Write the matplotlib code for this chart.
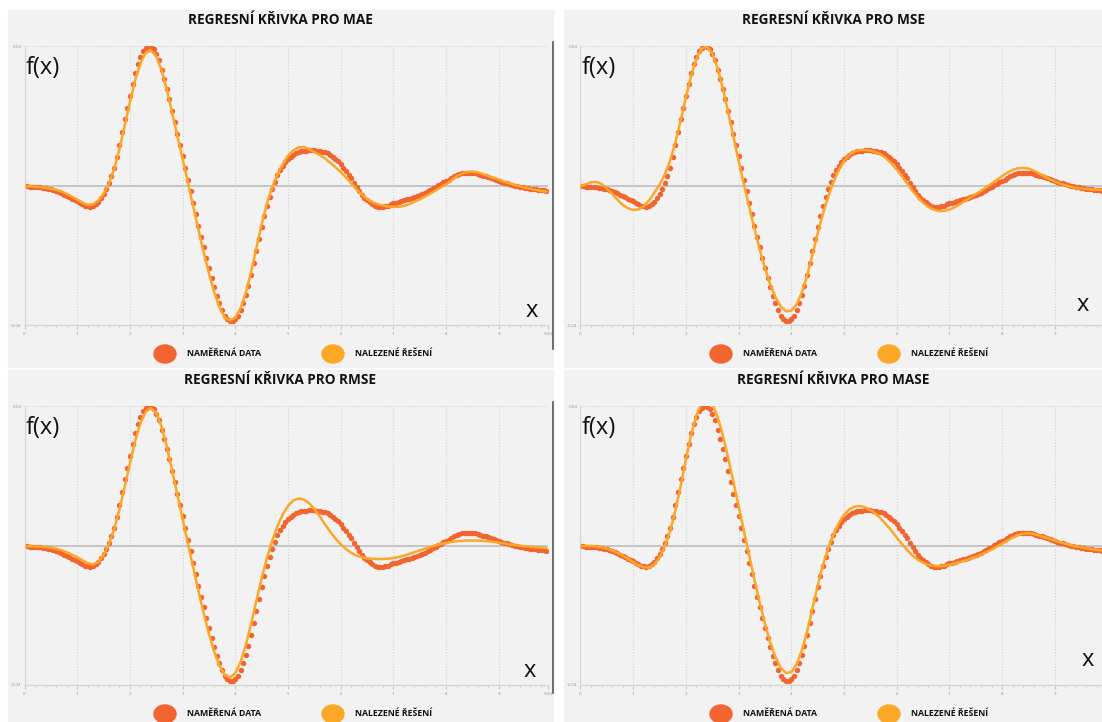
import numpy as np
import matplotlib.pyplot as plt
from matplotlib.patches import Rectangle, Ellipse
from matplotlib.lines import Line2D

# naměřená data (hodnoty v tisícinách), krok 0.05 od 0 do 9.9
measured = [
    0.0, 0.0, -0.05, -0.1, -0.15, -0.2, -0.3, -0.4, -0.55, -0.7,
    -0.9, -1.1, -1.4, -1.7, -2.0, -2.4, -2.8, -3.2, -3.6, -4.0,
    -4.4, -4.8, -5.2, -5.6, -5.85, -5.9, -5.7, -5.2, -4.5, -3.5,
    -2.3, -0.8, 1.0, 3.0, 5.5, 8.5, 12.0, 15.9, 19.7, 23.0,
    26.4, 30.0, 33.0, 35.7, 37.9, 39.4, 40.5, 40.9, 40.8, 40.2,
    38.7, 36.8, 34.1, 31.4, 28.3, 25.4, 22.0, 18.8, 15.4, 12.1,
    8.8, 5.5, 2.0, -1.4, -4.8, -8.2, -11.6, -14.7, -17.8, -20.8,
    -23.8, -26.7, -29.5, -31.9, -34.0, -36.2, -37.8, -38.8, -39.2, -39.2,
    -38.7, -37.8, -36.2, -34.0, -31.7, -29.1, -25.9, -22.5, -19.0, -15.4,
    -11.9, -8.6, -5.8, -3.2, -0.9, 1.3, 3.2, 4.8, 6.0, 7.1,
    8.0, 8.7, 9.3, 9.7, 10.0, 10.2, 10.3, 10.4, 10.5, 10.5,
    10.5, 10.4, 10.3, 10.1, 9.9, 9.6, 9.2, 8.6, 8.0, 7.3,
    6.4, 5.4, 4.4, 3.4, 2.3, 1.1, -0.3, -1.4, -2.4, -3.3,
    -4.1, -4.7, -5.2, -5.6, -5.9, -6.0, -6.0, -5.8, -5.6, -5.3,
    -5.0, -4.8, -4.5, -4.3, -4.0, -3.8, -3.6, -3.4, -3.1, -2.8,
    -2.5, -2.2, -1.8, -1.5, -1.1, -0.6, -0.2, 0.3, 0.8, 1.2,
    1.6, 2.0, 2.5, 2.9, 3.3, 3.6, 3.8, 3.9, 4.0, 4.0,
    3.9, 3.8, 3.6, 3.4, 3.1, 2.9, 2.6, 2.4, 2.1, 1.9,
    1.6, 1.4, 1.1, 0.9, 0.6, 0.4, 0.2, 0.0, -0.2, -0.3,
    -0.5, -0.6, -0.7, -0.8, -0.9, -1.0, -1.1, -1.2, -1.3,
]

# nalezená řešení pro jednotlivé metriky, krok 0.1 od 0 do 9.9
fit_mae = [
    0.0, 0.0, -0.1, -0.2, -0.4, -0.7, -1.0, -1.5, -2.2, -3.0,
    -3.9, -4.8, -5.4, -5.2, -4.2, -2.2, 0.8, 5.0, 10.8, 17.6,
    24.5, 31.0, 36.0, 39.0, 39.7, 38.0, 34.0, 28.3, 21.6, 14.8,
    8.0, 1.2, -5.8, -12.6, -19.3, -25.5, -31.0, -35.3, -38.3, -39.2,
    -38.3, -35.6, -31.0, -25.0, -18.0, -11.0, -5.0, -0.3, 3.5, 6.5,
    8.9, 10.5, 11.4, 11.5, 10.9, 10.0, 9.2, 8.2, 6.9, 5.6,
    4.2, 2.6, 0.9, -0.9, -2.4, -3.7, -4.6, -5.2, -5.6, -5.9,
    -6.0, -6.0, -5.7, -5.2, -4.5, -3.8, -3.0, -2.1, -1.2, -0.3,
    0.6, 1.8, 2.9, 3.7, 4.2, 4.3, 4.1, 3.6, 3.0, 2.5,
    2.0, 1.4, 0.9, 0.4, 0.0, -0.4, -0.7, -1.0, -1.3, -1.5,
]
fit_mse = [
    0.0, 0.6, 1.2, 1.3, 0.7, -0.6, -2.2, -3.9, -5.4, -6.4,
    -6.9, -6.7, -5.8, -4.1, -1.9, 0.5, 3.5, 7.5, 12.8, 19.2,
    26.0, 32.3, 37.3, 40.3, 40.8, 38.8, 34.6, 28.7, 21.8, 14.6,
    7.5, 0.6, -6.0, -12.4, -18.4, -23.9, -28.6, -32.4, -35.1, -36.5,
    -36.3, -34.5, -31.0, -26.0, -20.0, -13.8, -8.0, -3.0, 1.2, 4.7,
    7.4, 9.2, 10.2, 10.6, 10.6, 10.4, 10.0, 9.3, 8.2, 6.7,
    4.9, 2.9, 0.8, -1.3, -3.2, -4.8, -6.0, -6.8, -7.2, -7.2,
    -6.8, -6.1, -5.2, -4.2, -3.2, -2.3, -1.3, -0.3, 0.8, 1.9,
    3.0, 4.0, 4.8, 5.3, 5.4, 5.2, 4.6, 3.8, 2.9, 2.1,
    1.4, 0.8, 0.3, -0.1, -0.4, -0.6, -0.8, -0.9, -1.0, -1.1,
]
fit_rmse = [
    0.0, 0.0, 0.0, -0.1, -0.2, -0.4, -0.7, -1.1, -1.7, -2.4,
    -3.2, -4.1, -4.9, -5.3, -4.6, -2.6, 0.6, 5.0, 10.6, 17.3,
    24.2, 30.8, 36.0, 39.3, 40.4, 38.9, 35.0, 29.2, 22.3, 15.1,
    8.0, 0.9, -6.1, -13.0, -19.6, -25.6, -30.8, -34.9, -37.6, -38.3,
    -37.0, -33.8, -28.8, -22.6, -15.9, -9.3, -3.4, 1.7, 5.9, 9.3,
    11.8, 13.4, 14.0, 13.7, 12.6, 10.9, 8.8, 6.5, 4.3, 2.3,
    0.6, -0.8, -1.9, -2.7, -3.2, -3.5, -3.6, -3.7, -3.7, -3.6,
    -3.4, -3.1, -2.7, -2.2, -1.7, -1.2, -0.7, -0.2, 0.3, 0.7,
    1.0, 1.3, 1.5, 1.6, 1.7, 1.7, 1.7, 1.6, 1.5, 1.3,
    1.1, 0.9, 0.6, 0.4, 0.2, 0.0, -0.1, -0.3, -0.4, -0.5,
]
fit_mase = [
    0.0, 0.1, 0.1, 0.0, -0.3, -0.7, -1.2, -1.9, -2.7, -3.6,
    -4.6, -5.5, -6.1, -6.2, -5.3, -3.2, 0.0, 4.5, 10.4, 17.6,
    25.4, 32.6, 38.3, 41.9, 43.0, 41.6, 37.9, 32.5, 26.0, 19.0,
    11.8, 4.6, -2.6, -9.6, -16.4, -22.6, -28.0, -32.4, -35.5, -37.0,
    -36.7, -34.5, -30.4, -24.8, -18.2, -11.5, -5.5, -0.6, 3.5, 6.8,
    9.2, 10.8, 11.6, 11.8, 11.4, 10.6, 9.5, 8.1, 6.4, 4.6,
    2.6, 0.7, -1.1, -2.7, -3.9, -4.8, -5.4, -5.7, -5.8, -5.7,
    -5.4, -5.0, -4.6, -4.1, -3.6, -3.0, -2.4, -1.7, -0.9, -0.1,
    0.8, 1.7, 2.6, 3.3, 3.7, 3.8, 3.6, 3.2, 2.7, 2.2,
    1.7, 1.2, 0.8, 0.4, 0.0, -0.3, -0.6, -0.8, -1.0, -1.2,
]

titles = ['REGRESNÍ KŘIVKA PRO MAE', 'REGRESNÍ KŘIVKA PRO MSE',
          'REGRESNÍ KŘIVKA PRO RMSE', 'REGRESNÍ KŘIVKA PRO MASE']
fits = [fit_mae, fit_mse, fit_rmse, fit_mase]
legend_labels = ['NAMĚŘENÁ DATA', 'NALEZENÉ ŘEŠENÍ']

x_meas = np.linspace(0, 9.9, len(measured))
y_meas = np.array(measured) / 1000
x_fit = np.linspace(0, 9.9, 100)

RED = '#f26430'
ORANGE = '#fca726'
W, H = 1102, 722


def fx(px):
    return px / W


def fy(py):
    return 1 - py / H


fig = plt.figure(figsize=(W / 100, H / 100), dpi=100)
fig.patch.set_facecolor('white')

# panel: left, top, width, height in pixels
panels = [(8, 10, 545, 357), (564, 10, 538, 357),
          (8, 370, 545, 352), (564, 370, 538, 352)]
xlabel_pos = [(524, 301), (519, 295), (522, 301), (524, 290)]
unit = 52.7  # px per x unit

for i in range(4):
    pl, pt, pw, ph = panels[i]
    fig.add_artist(Rectangle((fx(pl), fy(pt + ph)), pw / W, ph / H,
                             transform=fig.transFigure, color='#f2f2f2', zorder=0))

    ax_left = pl + 16.5
    ax_top = pt + 36
    ax_w = min(523.8, W - ax_left)
    ax_h = 279
    ax = fig.add_axes([fx(ax_left), fy(ax_top + ax_h), ax_w / W, ax_h / H])
    ax.set_facecolor('none')
    xmax = ax_w / unit
    ax.set_xlim(0, xmax)
    ax.set_ylim(-0.0405, 0.041)

    ax.axhline(0, color='#bdbdbd', lw=1.2, zorder=1)
    ax.plot(x_meas, y_meas, 'o', ms=3.9, color=RED, mec='none', zorder=2)
    ax.plot(x_fit, np.array(fits[i]) / 1000, color=ORANGE, lw=1.8, zorder=3)

    for s in ['top', 'right']:
        ax.spines[s].set_visible(False)
    for s in ['left', 'bottom']:
        ax.spines[s].set_color('#d6d6d6')
        ax.spines[s].set_linewidth(0.9)

    # posledni popisek jen u levych grafu, u pravych by byl useknuty
    if i % 2 == 0:
        ax.set_xticks(list(range(10)) + [xmax])
        ax.set_xticklabels([str(t) for t in range(10)] + ['%.2f' % xmax])
    else:
        ax.set_xticks(list(range(10)))
        ax.set_xticklabels([str(t) for t in range(10)])
    ax.set_xticks(np.arange(0.2, xmax, 0.2), minor=True)
    ax.set_yticks([-0.0405, 0.041])
    ax.set_yticklabels(['-0.04', '0.04'])
    ax.tick_params(axis='both', which='major', labelsize=3, colors='#bbbbbb',
                   labelcolor='#999999', length=3, width=0.6, pad=2)
    ax.tick_params(axis='x', which='minor', length=2, width=0.5, colors='#cccccc')
    ax.tick_params(axis='y', length=0)
    ax.grid(True, which='major', linestyle=':', color='#d4d4d4', lw=0.8)

    fig.text(fx(pl + pw / 2), fy(pt + 10), titles[i], ha='center', va='center',
             fontsize=9.8, fontweight='bold', family='Open Sans', color='#111111')
    fig.text(fx(pl + 18), fy(pt + 58), 'f(x)', ha='left', va='center',
             fontsize=17, family='Open Sans', color='#111111')
    lx, ly = xlabel_pos[i]
    fig.text(fx(pl + lx), fy(pt + ly), 'x', ha='center', va='center',
             fontsize=17, family='Open Sans', color='#111111')

    # legenda
    ly = pt + ph - 13 if i < 2 else pt + ph - 8
    for cx, col, tx, lab in [(157, RED, 179, legend_labels[0]),
                             (325, ORANGE, 347, legend_labels[1])]:
        fig.add_artist(Ellipse((fx(pl + cx), fy(ly)), 22 / W, 18 / H,
                               transform=fig.transFigure, color=col, zorder=5))
        fig.text(fx(pl + tx), fy(ly), lab, ha='left', va='center',
                 fontsize=6.3, fontweight='bold', family='Open Sans', color='#111111')

# tmava svisla cara na prave strane levych panelu
for y0, y1 in [(42, 349), (402, 693)]:
    fig.add_artist(Line2D([fx(553), fx(553)], [fy(y0), fy(y1)],
                          transform=fig.transFigure, color='#555555', lw=1.2))

plt.savefig('out.png', dpi=100)
